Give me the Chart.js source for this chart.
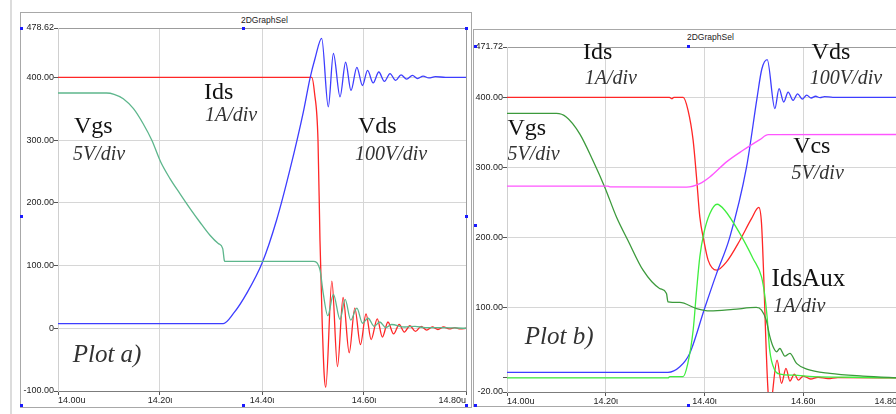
<!DOCTYPE html>
<html>
<head>
<meta charset="utf-8">
<script src="https://cdn.jsdelivr.net/npm/chart.js@4.4.1/dist/chart.umd.min.js"></script>
<style>
  html, body { margin: 0; padding: 0; background: #fff; overflow: hidden; }
  body { width: 896px; height: 414px; position: relative; }
  .edge { position: absolute; left: 10px; top: 0; width: 2px; height: 414px; background: #dcdcdc; }
  .frame { position: absolute; border: 1px solid #a8a8a8; box-sizing: border-box; }
  .title { position: absolute; font: 8.5px "Liberation Sans", Arial, sans-serif; color: #222; line-height: 10px; }
  canvas { position: absolute; }
  .handle { position: absolute; width: 3px; height: 3px; background: #1a1aff; }
</style>
</head>
<body>
<div class="edge"></div>
<div class="frame" style="left:20px;top:12px;width:452px;height:396px;"></div>
<div class="frame" style="left:473px;top:29px;width:450px;height:378px;"></div>
<div class="title" style="left:241px;top:15px;">2DGraphSel</div>
<div class="title" style="left:687px;top:32px;">2DGraphSel</div>
<canvas id="plotA" width="452" height="396" style="left:20px;top:12px;width:452px;height:396px;"></canvas>
<canvas id="plotB" width="432" height="378" style="left:474px;top:29px;width:432px;height:378px;"></canvas>
<div class="handle" style="left:20px;top:27px;"></div>
<div class="handle" style="left:242px;top:27px;"></div>
<div class="handle" style="left:465px;top:27px;"></div>
<div class="handle" style="left:20px;top:215px;"></div>
<div class="handle" style="left:465px;top:215px;"></div>
<div class="handle" style="left:20px;top:404px;"></div>
<div class="handle" style="left:242px;top:404px;"></div>
<div class="handle" style="left:465px;top:404px;"></div>
<div class="handle" style="left:474px;top:45px;"></div>
<div class="handle" style="left:687px;top:45px;"></div>
<div class="handle" style="left:474px;top:224px;"></div>
<div class="handle" style="left:474px;top:404px;"></div>
<div class="handle" style="left:687px;top:404px;"></div>
<script>
// ---- axes ----
const xTicks = [14.0, 14.2, 14.4, 14.6, 14.8];
const xTickLabelsA = ['14.00u', '14.20ι', '14.40ι', '14.60ι', '14.80u'];
const xTickLabelsB = ['14.00u', '14.20ι', '14.40ι', '14.60ι', '14.80u'];
const yTicksA = [-100, 0, 100, 200, 300, 400, 478.62];
const yTickLabelsA = ['-100.00', '0', '100.00', '200.00', '300.00', '400.00', '478.62'];
const yTicksB = [-20, 0, 100, 200, 300, 400, 471.72];
const yTickLabelsB = ['-20.00', '', '100.00', '200.00', '300.00', '400.00', '471.72'];

// ---- plot a) : [time us, value] ----
const idsA = [[14.00,400],[14.4975,400],[14.503,375],[14.5098,300],[14.5137,140],[14.518,10],[14.522,-75],[14.525,-94],
  [14.537,75],[14.548,-61],[14.559,49],[14.571,-39],[14.582,32],[14.593,-26],[14.604,23],[14.614,-18],[14.626,15],
  [14.636,-14],[14.647,10],[14.658,-9],[14.669,6],[14.679,-6],[14.690,4],[14.701,-5],[14.712,3],[14.723,-3],
  [14.734,2],[14.745,-2],[14.756,2],[14.767,-1],[14.778,1],[14.789,-1],[14.80,0]];
const vgsA = [[14.00,375],[14.095,375],[14.110,373],[14.128,366],[14.148,350],[14.167,326],[14.184,299.6],
  [14.2014,265],[14.2196,238.6],[14.239,214.7],[14.259,190.8],[14.278,169.4],[14.298,148.2],[14.3143,135],
  [14.323,127],[14.326,108.4],[14.3275,106.5],[14.5006,106.5],[14.5137,93],[14.520,56],[14.529,20],
  [14.540,54],[14.553,14],[14.563,46],[14.574,13],[14.586,32],[14.597,8],[14.608,16],[14.620,3],[14.631,10],
  [14.643,1],[14.654,6],[14.68,2],[14.70,3],[14.72,1],[14.75,1],[14.80,0]];
const vdsA = [[14.00,7.5],[14.324,7.5],[14.344,23.6],[14.370,55.7],[14.4006,104.8],[14.4288,173],[14.455,253.6],
  [14.481,344.6],[14.494,398],[14.504,430],[14.517,462],[14.530,353],[14.540,438],[14.553,369],[14.564,424],
  [14.5745,379],[14.586,416],[14.597,387],[14.607,411],[14.618,391],[14.629,408.5],[14.640,393.6],[14.651,406],
  [14.662,395],[14.6726,404],[14.6837,397],[14.695,403],[14.705,398],[14.716,402],[14.727,399],[14.74,401],
  [14.76,400],[14.80,400]];

// ---- plot b) ----
const idsB = [[14.00,400],[14.329,400],[14.334,398],[14.338,400],[14.3567,400],[14.3667,381.5],[14.377,338.7],
  [14.3838,286.5],[14.3905,229.5],[14.3986,196],[14.4073,168],[14.4243,153.6],[14.4446,165.5],[14.4715,196],
  [14.4952,227],[14.510,243],[14.5155,220],[14.520,144],[14.524,58.7],[14.528,-10],[14.532,-45],[14.547,25.5],
  [14.556,-7.7],[14.565,13.6],[14.573,-4.4],[14.582,5.5],[14.590,-3],[14.600,2.7],[14.615,-1.5],[14.63,1],
  [14.65,-1],[14.67,0.5],[14.80,0]];
const idsAuxB = [[14.00,0],[14.326,0],[14.330,2],[14.3567,2],[14.366,20],[14.377,68],[14.384,125],[14.3905,172.6],
  [14.3986,206],[14.4107,234],[14.4255,247.6],[14.441,239],[14.4715,206],[14.4985,170],[14.5155,144],[14.522,118],
  [14.5268,87],[14.532,40],[14.5425,11],[14.5526,5.5],[14.58,4],[14.62,2],[14.70,1],[14.80,0]];
const vgsB = [[14.00,377],[14.100,377],[14.120,372],[14.1473,348],[14.174,310],[14.198,272],[14.2217,229.5],
  [14.245,196],[14.2756,153.6],[14.309,127.6],[14.323,120.4],[14.326,108.5],[14.350,107.6],[14.384,99],
  [14.411,95.7],[14.458,97.7],[14.505,100.5],[14.5155,96.7],[14.525,82.4],[14.532,60],[14.539,44.4],[14.546,37.3],
  [14.5526,42],[14.5627,31],[14.573,35],[14.5864,20.8],[14.607,12.7],[14.654,6.5],[14.721,2.7],[14.80,0]];
const vcsB = [[14.00,273.5],[14.204,273.5],[14.208,272.5],[14.3635,272],[14.3905,277],[14.4107,286.5],[14.4446,308],
  [14.478,324.5],[14.512,339.7],[14.529,346.8],[14.80,347]];
const vdsB = [[14.00,8],[14.326,8],[14.350,16],[14.370,35],[14.4006,100],[14.424,148],[14.451,200],[14.485,300],
  [14.5066,400],[14.516,440],[14.527,453.6],[14.5425,384],[14.551,412.4],[14.5605,393.3],[14.5694,407.5],
  [14.5795,395.7],[14.5885,405],[14.598,397.5],[14.607,403],[14.616,399],[14.625,401.5],[14.634,399.5],
  [14.643,401],[14.66,400],[14.80,400]];

// ---- text on the plots (placed in data units) ----
const notesA = [
  { text: 'Ids', t: 14.2863, v: 366, size: 24 },
  { text: '1A/div', t: 14.2882, v: 330, size: 20, italic: true },
  { text: 'Vgs', t: 14.0314, v: 312, size: 24 },
  { text: '5V/div', t: 14.0294, v: 268, size: 20, italic: true },
  { text: 'Vds', t: 14.588, v: 311, size: 24 },
  { text: '100V/div', t: 14.5824, v: 268, size: 20, italic: true },
  { text: 'Plot a)', t: 14.0288, v: -54, size: 25, italic: true }
];
const notesB = [
  { text: 'Ids', t: 14.154, v: 454, size: 24 },
  { text: '1A/div', t: 14.1574, v: 419, size: 20, italic: true },
  { text: 'Vgs', t: 14.001, v: 346, size: 24 },
  { text: '5V/div', t: 14.001, v: 310, size: 20, italic: true },
  { text: 'Vds', t: 14.6168, v: 455, size: 24 },
  { text: '100V/div', t: 14.6134, v: 419, size: 20, italic: true },
  { text: 'Vcs', t: 14.5795, v: 320, size: 24 },
  { text: '5V/div', t: 14.5763, v: 284, size: 20, italic: true },
  { text: 'IdsAux', t: 14.5358, v: 131, size: 25 },
  { text: '1A/div', t: 14.539, v: 94, size: 20, italic: true },
  { text: 'Plot b)', t: 14.036, v: 49, size: 25, italic: true }
];

const notesPlugin = {
  id: 'notes',
  afterDatasetsDraw(chart, args, opts) {
    const ctx = chart.ctx;
    const x = chart.scales.x, y = chart.scales.y;
    ctx.save();
    ctx.textBaseline = 'alphabetic';
    ctx.textAlign = 'left';
    opts.items.forEach(n => {
      ctx.font = (n.italic ? 'italic ' : '') + n.size + 'px "Liberation Serif", "Times New Roman", serif';
      ctx.fillStyle = n.italic ? '#333' : '#111';
      ctx.fillText(n.text, x.getPixelForValue(n.t), y.getPixelForValue(n.v));
    });
    ctx.restore();
  }
};

function series(pairs, color) {
  return {
    data: pairs.map(p => ({ x: p[0], y: p[1] })),
    borderColor: color,
    borderWidth: 1.3,
    pointRadius: 0,
    fill: false,
    cubicInterpolationMode: 'monotone'
  };
}

const tickFont = { family: '"Liberation Sans", Arial, sans-serif', size: 9 };

function makePlot(id, datasets, cfg) {
  const nY = cfg.yTicks.length;
  return new Chart(document.getElementById(id), {
    type: 'line',
    data: { datasets: datasets },
    options: {
      responsive: false,
      animation: false,
      events: [],
      layout: { padding: cfg.padding },
      plugins: { legend: { display: false }, tooltip: { enabled: false }, notes: { items: cfg.notes } },
      scales: {
        x: {
          type: 'linear', min: 14.0, max: 14.8,
          afterBuildTicks: s => { s.ticks = xTicks.map(v => ({ value: v })); },
          afterFit: s => { s.height = cfg.xHeight; },
          ticks: {
            autoSkip: false, maxRotation: 0, align: 'inner', padding: 0,
            color: '#222', font: tickFont,
            callback: (v, i) => cfg.xLabels[i]
          },
          grid: {
            color: c => c.index === xTicks.length - 1 ? '#9c9c9c' : '#d6d6d6',
            tickColor: '#555', tickLength: 4
          },
          border: { color: '#7c7c7c' }
        },
        y: {
          type: 'linear', min: cfg.yTicks[0], max: cfg.yTicks[nY - 1],
          afterBuildTicks: s => { s.ticks = cfg.yTicks.map(v => ({ value: v })); },
          afterFit: s => { s.width = cfg.yWidth; },
          ticks: {
            autoSkip: false, padding: 0, color: '#222', font: tickFont,
            labelOffset: c => c.index === 0 ? -5 : (c.index === nY - 1 ? 5 : 0),
            callback: (v, i) => cfg.yLabels[i]
          },
          grid: {
            color: c => c.index === nY - 1 ? '#9c9c9c' : '#d6d6d6',
            tickColor: '#555', tickLength: 4
          },
          border: { color: '#cfcfcf' }
        }
      }
    },
    plugins: [notesPlugin]
  });
}

document.addEventListener('DOMContentLoaded', () => {
  makePlot('plotA', [
    series(vgsA, '#5db68c'),
    series(vdsA, '#3d3dff'),
    series(idsA, '#ff2626')
  ], {
    xLabels: xTickLabelsA, yTicks: yTicksA, yLabels: yTickLabelsA,
    padding: { top: 16, right: 6, bottom: 0, left: 0 }, xHeight: 17, yWidth: 38, notes: notesA
  });

  makePlot('plotB', [
    series(vcsB, '#ff55ff'),
    series(vgsB, '#3c9a3c'),
    series(idsAuxB, '#3fee3f'),
    series(vdsB, '#3d3dff'),
    series(idsB, '#ff2626')
  ], {
    xLabels: xTickLabelsB, yTicks: yTicksB, yLabels: yTickLabelsB,
    padding: { top: 18, right: 4, bottom: 0, left: 0 }, xHeight: 15, yWidth: 33, notes: notesB
  });
});
</script>
</body>
</html>
